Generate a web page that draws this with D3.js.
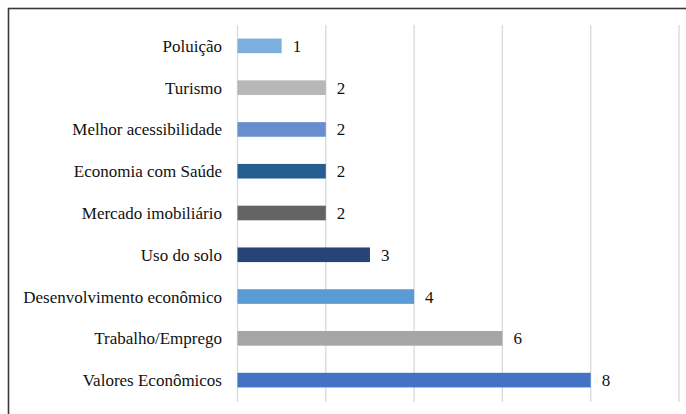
<!DOCTYPE html>
<html>
<head>
<meta charset="utf-8">
<script src="https://cdn.jsdelivr.net/npm/d3@7"></script>
<style>
  body { margin: 0; background: #fff; }
</style>
</head>
<body>
<div id="chart"></div>
<script>
var categories = ["Poluição", "Turismo", "Melhor acessibilidade", "Economia com Saúde",
  "Mercado imobiliário", "Uso do solo", "Desenvolvimento econômico",
  "Trabalho/Emprego", "Valores Econômicos"];
var values = [1, 2, 2, 2, 2, 3, 4, 6, 8];
var colors = ["#7CAFDD", "#B7B7B7", "#698ED0", "#255E91", "#636363",
  "#264478", "#5B9BD5", "#A5A5A5", "#4472C4"];
var gridTicks = [0, 2, 4, 6, 8, 10];

var width = 686;
var height = 414;

var svg = d3.select("#chart")
    .append("svg")
    .attr("width", width)
    .attr("height", height);

// outer frame
svg.append("rect")
    .attr("x", 8.5)
    .attr("y", 8.5)
    .attr("width", 700)
    .attr("height", 430)
    .attr("fill", "none")
    .attr("stroke", "#3a3a3a")
    .attr("stroke-width", 1.6);

var x = d3.scaleLinear()
    .domain([0, 10])
    .range([237.5, 679]);

var y = d3.scaleBand()
    .domain(categories)
    .range([25, 401])
    .paddingInner(0.65)
    .paddingOuter(0.325);

// gridlines
svg.append("g")
    .selectAll("line")
    .data(gridTicks)
    .enter()
    .append("line")
    .attr("x1", function(d){ return x(d); })
    .attr("x2", function(d){ return x(d); })
    .attr("y1", 25)
    .attr("y2", 402)
    .attr("stroke", "#d9d9d9")
    .attr("stroke-width", 1.3);

// bars
svg.append("g")
    .selectAll("rect")
    .data(categories)
    .enter()
    .append("rect")
    .attr("x", x(0))
    .attr("y", function(d){ return y(d); })
    .attr("width", function(d, i){ return x(values[i]) - x(0); })
    .attr("height", y.bandwidth())
    .attr("fill", function(d, i){ return colors[i]; });

// category labels
svg.append("g")
    .selectAll("text")
    .data(categories)
    .enter()
    .append("text")
    .attr("x", 222)
    .attr("y", function(d){ return y(d) + y.bandwidth() / 2; })
    .attr("dy", "0.35em")
    .attr("text-anchor", "end")
    .style("font-family", "'Liberation Serif'")
    .style("font-size", "17px")
    .attr("fill", "#111")
    .text(function(d){ return d; });

// value labels
svg.append("g")
    .selectAll("text")
    .data(categories)
    .enter()
    .append("text")
    .attr("x", function(d, i){ return x(values[i]) + 11; })
    .attr("y", function(d){ return y(d) + y.bandwidth() / 2; })
    .attr("dy", "0.35em")
    .style("font-family", "'Liberation Serif'")
    .style("font-size", "17px")
    .attr("fill", "#111")
    .text(function(d, i){ return values[i]; });
</script>
</body>
</html>
